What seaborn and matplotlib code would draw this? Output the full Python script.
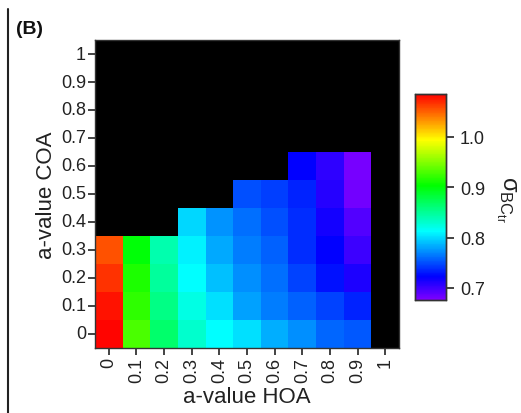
import numpy as np
import pandas as pd
import matplotlib
matplotlib.use("Agg")
import matplotlib.pyplot as plt
from matplotlib.colors import LinearSegmentedColormap, hsv_to_rgb
import seaborn as sns

# a-value grids
a_hoa = [0, 0.1, 0.2, 0.3, 0.4, 0.5, 0.6, 0.7, 0.8, 0.9, 1]
a_coa = [0, 0.1, 0.2, 0.3, 0.4, 0.5, 0.6, 0.7, 0.8, 0.9, 1]
tick_labels = ["0", "0.1", "0.2", "0.3", "0.4", "0.5", "0.6", "0.7", "0.8", "0.9", "1"]

# sigma_BCtr per HOA column, listed from COA = 0 upwards (missing = no solution)
sigma_hoa_00 = [1.083, 1.078, 1.066, 1.055]
sigma_hoa_01 = [0.930, 0.920, 0.913, 0.900]
sigma_hoa_02 = [0.865, 0.855, 0.848, 0.842]
sigma_hoa_03 = [0.830, 0.822, 0.813, 0.808, 0.798]
sigma_hoa_04 = [0.812, 0.802, 0.790, 0.782, 0.775]
sigma_hoa_05 = [0.802, 0.779, 0.773, 0.767, 0.762, 0.750]
sigma_hoa_06 = [0.784, 0.767, 0.761, 0.756, 0.750, 0.744]
sigma_hoa_07 = [0.773, 0.756, 0.745, 0.738, 0.738, 0.734, 0.721]
sigma_hoa_08 = [0.758, 0.745, 0.728, 0.721, 0.715, 0.709, 0.705]
sigma_hoa_09 = [0.754, 0.734, 0.712, 0.700, 0.692, 0.682, 0.680]
sigma_hoa_10 = []

columns = [sigma_hoa_00, sigma_hoa_01, sigma_hoa_02, sigma_hoa_03, sigma_hoa_04,
           sigma_hoa_05, sigma_hoa_06, sigma_hoa_07, sigma_hoa_08, sigma_hoa_09,
           sigma_hoa_10]

grid = np.full((len(a_coa), len(a_hoa)), np.nan)
for j, col in enumerate(columns):
    for i, v in enumerate(col):
        grid[i, j] = v
df = pd.DataFrame(grid, index=a_coa, columns=a_hoa)

vmin, vmax = 0.676, 1.085

# Igor-style rainbow: purple -> blue -> cyan -> green -> yellow -> red (linear hue)
f = np.linspace(0, 1, 256)
cols = [hsv_to_rgb((0.75 * (1 - x), 1.0, 1.0)) for x in f]
cmap = LinearSegmentedColormap.from_list("igor_rainbow", cols)

sns.set_style("white")
plt.rcParams["font.family"] = ["Liberation Sans", "DejaVu Sans"]
plt.rcParams["mathtext.fontset"] = "custom"
plt.rcParams["mathtext.rm"] = "Liberation Sans"
plt.rcParams["mathtext.it"] = "Liberation Sans:italic"

fig = plt.figure(figsize=(5.21, 4.14), dpi=100)
ax = fig.add_axes([95 / 521, 1 - 349 / 414, 304 / 521, 308 / 414])
cax = fig.add_axes([415 / 521, 1 - 301 / 414, 31 / 521, 206 / 414])

ax.set_facecolor("black")
sns.heatmap(df, ax=ax, cmap=cmap, vmin=vmin, vmax=vmax, cbar_ax=cax,
            linewidths=0, square=False,
            xticklabels=tick_labels, yticklabels=tick_labels)
ax.invert_yaxis()

ax.set_xlabel("a-value HOA", fontsize=16, color="#222222", labelpad=3)
ax.set_ylabel("a-value COA", fontsize=16, color="#222222", labelpad=3)
ax.tick_params(axis="both", which="major", direction="out", length=5, width=1.2,
               color="#222222", labelsize=13, labelcolor="#222222", pad=1.5,
               bottom=True, left=True)
ax.set_xticklabels(tick_labels, rotation=90)
ax.set_yticklabels(tick_labels, rotation=0)
for s in ax.spines.values():
    s.set_visible(True)
    s.set_color("#333333")
    s.set_linewidth(1)

cax.tick_params(direction="out", length=6, width=1.2, color="#222222",
                labelsize=13, labelcolor="#222222", pad=4)
cax.set_yticks([0.7, 0.8, 0.9, 1.0])
cax.set_yticklabels(["0.7", "0.8", "0.9", "1.0"])
for s in cax.spines.values():
    s.set_visible(True)
    s.set_color("#333333")
    s.set_linewidth(1)
cax.set_ylabel("")
fig.text(506 / 521, 1 - 199 / 414, r"$\mathrm{\sigma}_{\mathrm{BC}_{\mathrm{tr}}}$",
         fontsize=17, rotation=270, ha="center", va="center", color="#222222")

fig.text(16 / 521, 1 - 30 / 414, "(B)", fontsize=14, fontweight="bold",
         va="center", ha="left", color="#111111")
fig.add_artist(plt.Line2D([8 / 521, 8 / 521], [0, 1 - 10 / 414],
                          transform=fig.transFigure, color="#222222", lw=1.5))

fig.savefig("out.png", dpi=100)
